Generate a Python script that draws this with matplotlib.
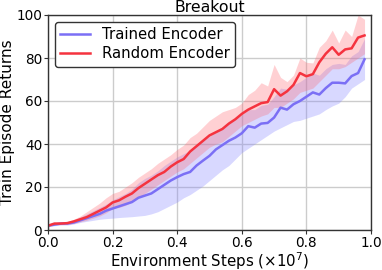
import numpy as np
import matplotlib
matplotlib.use("Agg")
import matplotlib.pyplot as plt

steps = [0.02 * i for i in range(50)]

random_mean = [2, 3, 3, 3.2, 4, 5, 6, 7.5, 9, 10.5,
               12.8, 13.8, 15.5, 17, 19.5, 21.5, 23.5, 25.5, 27, 29.5,
               31.5, 33, 36.5, 39, 41.5, 44, 45.5, 47, 49.5, 51.5,
               54, 56, 57.5, 59, 59.5, 65.5, 62.5, 64.5, 67.5, 73,
               71.5, 72.5, 78, 82, 85, 81.5, 84, 84.5, 89.5, 90.5]
random_upper = [2.5, 3.5, 3.8, 4, 5, 6.5, 8.5, 10.5, 12.5, 15,
                17, 18, 20, 22, 24.5, 26.5, 28.5, 31, 33, 35,
                37.5, 39.5, 43, 45, 48, 51, 53, 55, 56, 57,
                59, 63, 65, 68.5, 67, 77, 71, 69, 72, 80,
                78, 77.7, 85, 88, 93, 87, 93, 90, 100, 98]
random_lower = [1.5, 2.5, 2.5, 2.6, 3, 3.8, 4.5, 5.5, 6.5, 8,
                10, 10.5, 11.5, 13, 15, 17, 19, 21, 23, 25,
                27, 28.5, 31, 33.5, 36, 38.5, 40, 41, 43.5, 46,
                48.5, 50, 51.5, 53, 54, 57, 57, 59, 61, 64,
                65, 66, 69, 72, 75, 75, 76, 78, 80, 82]

trained_mean = [2, 2.5, 3, 3, 3.5, 4.5, 5.5, 6.5, 7.5, 9,
                10, 11, 12, 13, 15, 16, 17, 19, 21, 23,
                24.6, 26, 27, 30, 32.3, 34.5, 37.5, 39.5, 41.5, 43,
                45, 48.3, 47.6, 49.5, 49.8, 52.3, 56.9, 56, 58.5, 60,
                62, 64, 63, 66, 68.5, 68.5, 68.2, 71.6, 73, 79.4]
trained_upper = [2.5, 3.2, 3.8, 4, 4.5, 6, 7.5, 9, 10.5, 12,
                 14, 15.5, 17, 19, 22, 24, 25.5, 27.5, 30, 32,
                 34, 35.5, 37, 39.5, 42, 43.5, 46, 48, 50, 51.5,
                 53.5, 56, 56, 58, 58.5, 62, 66, 65.5, 67.5, 69,
                 71, 73, 72, 75, 77, 77.5, 77, 81, 83, 89]
trained_lower = [1.5, 2, 2.3, 2.3, 2.8, 3.5, 4, 4.5, 5, 5.3,
                 5.5, 5.8, 6, 6.2, 6.5, 6.8, 7.5, 8.5, 10, 11.5,
                 13, 15, 16.5, 18.5, 20.5, 23, 25.5, 28, 30, 33,
                 36, 38, 40, 42, 44, 46, 47.5, 49, 50.5, 51,
                 52, 53, 54, 56, 57.7, 59, 62, 66, 68, 70]

blue = "#7b6ff5"
red = "#f5333f"

plt.rcParams['font.family'] = ['DejaVu Sans']
fig = plt.figure(figsize=(3.82, 2.70), dpi=100)
ax = fig.add_axes([48/382, 40/270, 323/382, 215/270])

ax.fill_between(steps, trained_lower, trained_upper, color="#8080ff", alpha=0.3, linewidth=0)
ax.fill_between(steps, random_lower, random_upper, color="#ff6670", alpha=0.3, linewidth=0)
ax.plot(steps, trained_mean, color=blue, lw=1.8, label="Trained Encoder")
ax.plot(steps, random_mean, color=red, lw=1.8, label="Random Encoder")

ax.set_xlim(0, 1.0)
ax.set_ylim(0, 100)
ax.set_xticks([0.0, 0.2, 0.4, 0.6, 0.8, 1.0])
ax.set_yticks([0, 20, 40, 60, 80, 100])
ax.tick_params(labelsize=9.8, length=3, width=0.8, direction="out", pad=1.2, color="#333333")
ax.grid(True, color="#cccccc", lw=1)
ax.set_axisbelow(True)
for s in ax.spines.values():
    s.set_color("#333333")
    s.set_linewidth(1)

ax.set_title("Breakout", fontsize=11.3, pad=2)
ax.set_xlabel("Environment Steps ($\\times 10^7$)", fontsize=10.8, labelpad=0)
ax.set_ylabel("Train Episode Returns", fontsize=11, labelpad=1)
leg = ax.legend(loc="upper left", fontsize=10.7, frameon=True, fancybox=True,
                edgecolor="#333333", framealpha=1, borderaxespad=0.45,
                labelspacing=0.3, borderpad=0.35)
leg.get_frame().set_linewidth(1)

fig.savefig("out.png", dpi=100)
